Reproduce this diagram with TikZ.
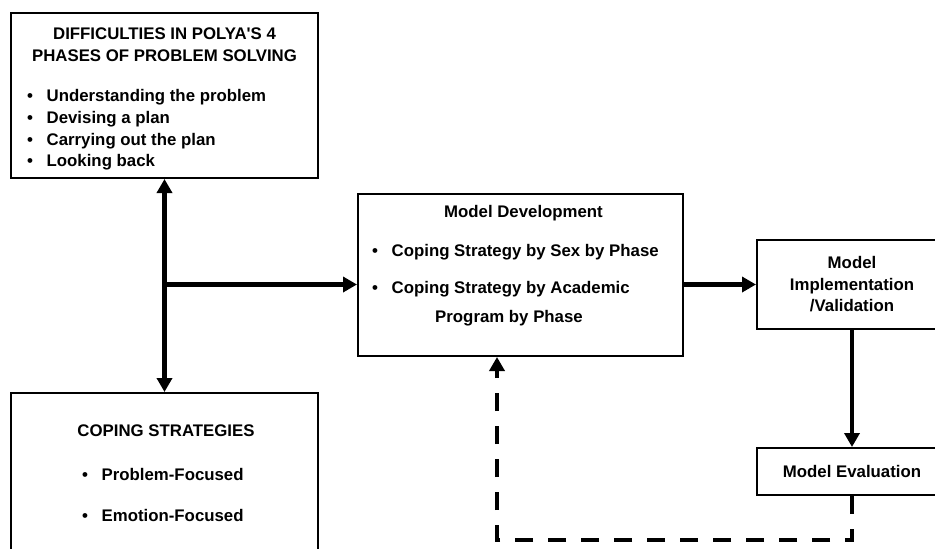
\documentclass[tikz,border=0pt]{standalone}
\usepackage{fontspec}
\setmainfont{Liberation Sans}
\usetikzlibrary{arrows.meta}
\newcommand{\itm}{\makebox[19.5pt][l]{•}}
\tikzset{
  box/.style={draw, line width=2pt, inner sep=0pt},
  txt/.style={inner sep=0pt, font=\fontsize{16.8}{21.5}\selectfont\bfseries},
  arr/.style={line width=4.2pt, arrows={-Triangle[length=14pt,width=15pt]}},
  dblarr/.style={line width=4.2pt, arrows={Triangle[length=14pt,width=15pt]-Triangle[length=14pt,width=15pt]}},
  backarr/.style={arr, dash pattern=on 18pt off 15pt},
}
\begin{document}
\begin{tikzpicture}[x=1pt,y=-1pt]
\useasboundingbox (0,0) rectangle (935,549);
\clip (0,0) rectangle (935,549);

\node[box, minimum width=307pt, minimum height=165pt] (diff) at (164.5,95.5) {};
\draw (164.5,39.3) node[txt, anchor=base] (diffA) {DIFFICULTIES IN POLYA\textquotesingle S 4};
\draw (164.5,61) node[txt, anchor=base] (diffB) {PHASES OF PROBLEM SOLVING};
\draw (27,101.7) node[txt, anchor=base west] (diff1) {\itm Understanding the problem};
\draw (27,123.3) node[txt, anchor=base west] (diff2) {\itm Devising a plan};
\draw (27,145) node[txt, anchor=base west] (diff3) {\itm Carrying out the plan};
\draw (27,166.5) node[txt, anchor=base west] (diff4) {\itm Looking back};

\node[box, minimum width=307pt, minimum height=207pt] (cope) at (164.5,496.5) {};
\draw (166,436.7) node[txt, anchor=base] (copeA) {COPING STRATEGIES};
\draw (82,480) node[txt, anchor=base west] (cope1) {\itm Problem-Focused};
\draw (82,521) node[txt, anchor=base west] (cope2) {\itm Emotion-Focused};

\node[box, minimum width=325pt, minimum height=162pt] (dev) at (520.5,275) {};
\draw (523.5,217.3) node[txt, anchor=base] (devA) {Model Development};
\draw (372,256) node[txt, anchor=base west] (dev1) {\itm Coping Strategy by Sex by Phase};
\draw (372,293.3) node[txt, anchor=base west] (dev2) {\itm Coping Strategy by Academic};
\draw (509,322.7) node[txt, anchor=base] (dev2b) {Program by Phase};

\node[box, txt, align=center, minimum width=190pt, minimum height=89pt] (impl) at (852,284.5) {Model\\Implementation\\/Validation};
\node[box, txt, minimum width=190pt, minimum height=47pt] (eval) at (852,471.5) {Model Evaluation};

\draw[dblarr] (diff.south) -- (cope.north);
\coordinate (junc) at (164.5,284.5);
\draw[arr] (junc) -- (junc -| dev.west);
\draw[arr] (dev.east |- impl.west) -- (impl.west);
\draw[arr] (impl.south) -- (eval.north);
\coordinate (back) at (497,540);
\draw[backarr] (eval.south) |- (back) -- (back |- dev.south);
\end{tikzpicture}
\end{document}
